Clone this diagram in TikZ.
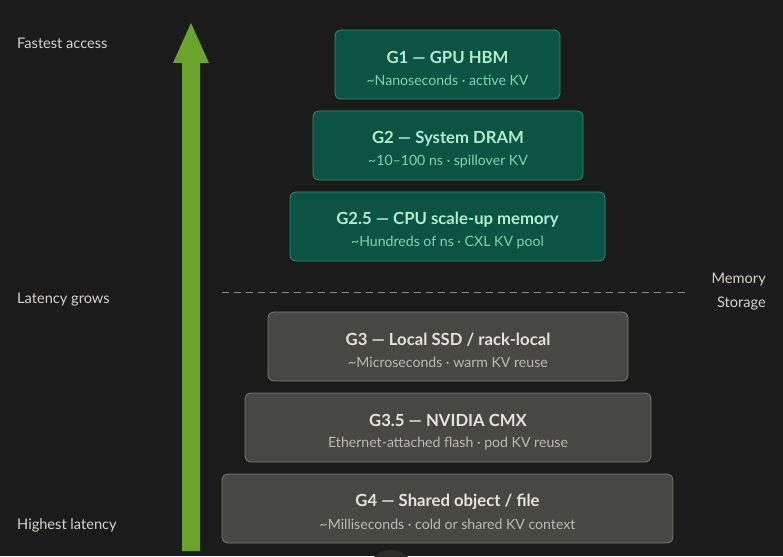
\documentclass[tikz,border=0pt]{standalone}
\usepackage{fontspec}
\setmainfont{Lato}
\definecolor{bg}{HTML}{1B1B1B}
\definecolor{memfill}{HTML}{0B5443}
\definecolor{memdraw}{HTML}{2F9070}
\definecolor{memtitle}{HTML}{B5EBD0}
\definecolor{memsub}{HTML}{7DD6AC}
\definecolor{stfill}{HTML}{474743}
\definecolor{stdraw}{HTML}{7A7A74}
\definecolor{sttitle}{HTML}{E6E4DA}
\definecolor{stsub}{HTML}{BDBBB2}
\definecolor{arrowgreen}{HTML}{6AA42A}
\definecolor{sidetext}{HTML}{D6D4CA}
\definecolor{dashgrey}{HTML}{8A8A86}
\definecolor{circgrey}{HTML}{2B2B2A}
\tikzset{
  membox/.style={draw=memdraw, fill=memfill, rounded corners=6pt, line width=0.8pt},
  stbox/.style={draw=stdraw, fill=stfill, rounded corners=6pt, line width=0.8pt},
  memtitle/.style={text=memtitle, font=\fontsize{16.7}{18}\selectfont\bfseries, anchor=center, inner sep=0},
  memsub/.style={text=memsub, font=\fontsize{14.1}{16}\selectfont, anchor=center, inner sep=0},
  sttitle/.style={text=sttitle, font=\fontsize{16.7}{18}\selectfont\bfseries, anchor=center, inner sep=0},
  stsub/.style={text=stsub, font=\fontsize{14.1}{16}\selectfont, anchor=center, inner sep=0},
  side/.style={text=sidetext, font=\fontsize{14.6}{16}\selectfont, inner sep=0},
}
\begin{document}
\begin{tikzpicture}[x=1pt,y=-1pt]
\fill[bg] (0,0) rectangle (783,556);
\useasboundingbox (0,0) rectangle (783,556);
% faint circle at bottom
\fill[circgrey] (391,574) circle (24);
\fill[bg] (0,0) rectangle (783,546);
% arrow
\fill[arrowgreen] (182,551) -- (182,63) -- (173,63) -- (191,23) -- (209,63) -- (200,63) -- (200,551) -- cycle;
\coordinate (arrowtip) at (191,23);
% left labels
\node[side, anchor=west] (fast) at (17,43) {Fastest access};
\node[side, anchor=west] (grow) at (17,300) {Latency grows};
\node[side, anchor=west] (high) at (17,525) {Highest latency};
% boxes
\draw[membox] (335,30) rectangle (560,99);
\node[memtitle] (g1t) at (447.5,57.5) {G1 — GPU HBM};
\node[memsub] (g1s) at (447.5,80.5) {\textasciitilde Nanoseconds · active KV};
\draw[membox] (313,111) rectangle (583,180);
\node[memtitle] (g2t) at (448,138.5) {G2 — System DRAM};
\node[memsub] (g2s) at (448,161.5) {\textasciitilde 10–100 ns · spillover KV};
\draw[membox] (290,192) rectangle (605,261);
\node[memtitle] (g25t) at (447.5,219.5) {G2.5 — CPU scale-up memory};
\node[memsub] (g25s) at (447.5,242.5) {\textasciitilde Hundreds of ns · CXL KV pool};
% divider
\coordinate (dl) at (222,292);
\coordinate (dr) at (685,292);
\draw[dashgrey, dash pattern=on 7pt off 5pt, line width=0.9pt] (dl) -- (dr);
\node[side, anchor=east] (mem) at (766,279.5) {Memory};
\node[side, anchor=east] (sto) at (766,303.5) {Storage};
\draw[stbox] (268,312) rectangle (628,381);
\node[sttitle] (g3t) at (448,339.5) {G3 — Local SSD / rack-local};
\node[stsub] (g3s) at (448,362.5) {\textasciitilde Microseconds · warm KV reuse};
\draw[stbox] (245,393) rectangle (651,462);
\node[sttitle] (g35t) at (448,420.5) {G3.5 — NVIDIA CMX};
\node[stsub] (g35s) at (448,443.5) {Ethernet-attached flash · pod KV reuse};
\draw[stbox] (222,474) rectangle (673,543);
\node[sttitle] (g4t) at (447.5,501.5) {G4 — Shared object / file};
\node[stsub] (g4s) at (447.5,524.5) {\textasciitilde Milliseconds · cold or shared KV context};
\end{tikzpicture}
\end{document}
